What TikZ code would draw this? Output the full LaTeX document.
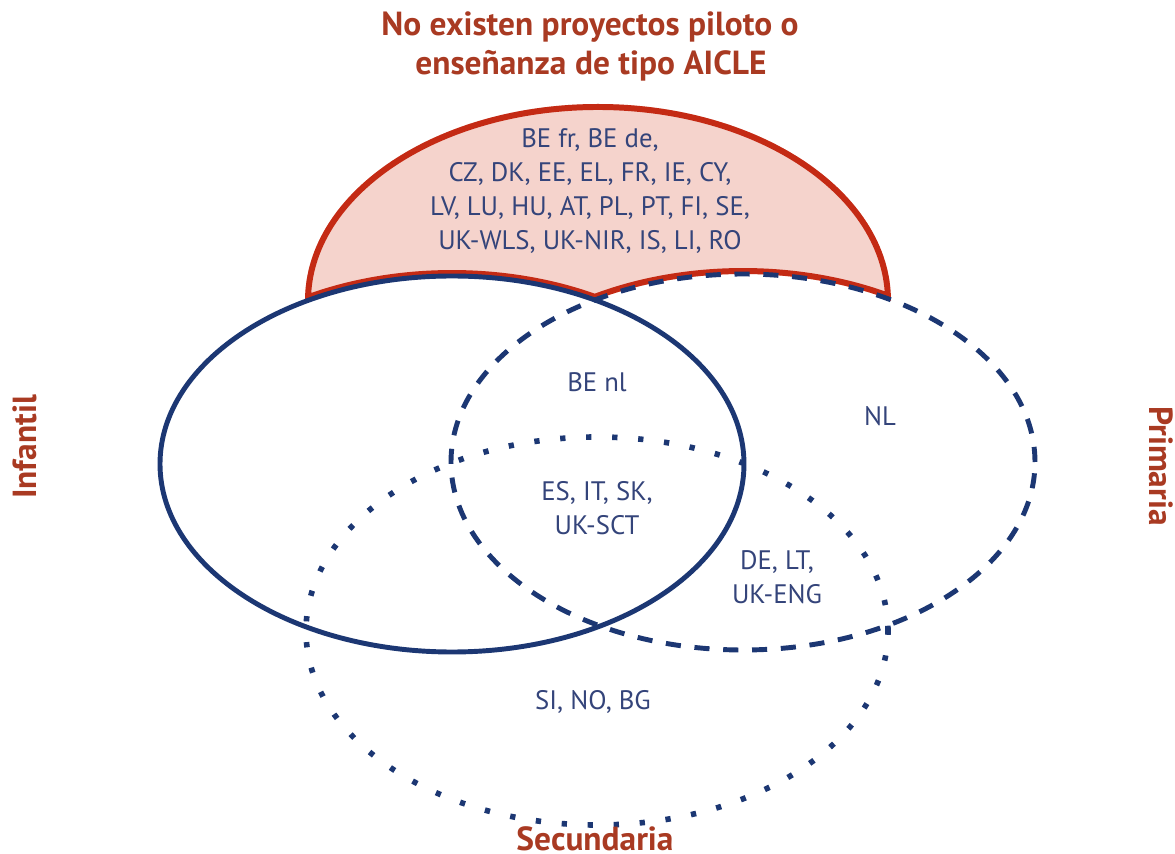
\documentclass[tikz,border=0pt]{standalone}
\usepackage{fontspec}
\setmainfont{PT Sans}
\definecolor{navy}{HTML}{1C3773}
\definecolor{txtblue}{HTML}{34447A}
\definecolor{domered}{HTML}{C42A14}
\definecolor{titlered}{HTML}{A93A22}
\definecolor{domepink}{HTML}{F5D3CC}
\begin{document}
\begin{tikzpicture}[x=0.01cm,y=0.01cm,
  ring/.style={draw=navy,line width=1.4pt},
  ringdashed/.style={ring,dash pattern=on 4.3pt off 3.9pt},
  ringdotted/.style={ring,line width=1.6pt,dash pattern=on 1.5pt off 5.9pt},
  lbl/.style={text=txtblue,font=\fontsize{7.6}{9.6}\selectfont,align=center,inner sep=0pt},
  ttl/.style={text=titlered,font=\fontsize{9.5}{11.4}\selectfont\bfseries,align=center,inner sep=0pt}]
\useasboundingbox (0,0) rectangle (1175,854);
\coordinate (cs) at (452,390);
\coordinate (cd) at (743,392);
\coordinate (ct) at (597,223);
% dome
\def\dome{(306,552.8) -- (305,553) arc[start angle=180,end angle=0,x radius=293,y radius=197]
  -- (889,554.8) arc[start angle=60,end angle=120,x radius=292,y radius=188]
  -- (598,552.8) arc[start angle=60,end angle=120,x radius=292,y radius=188] -- cycle}
\begin{scope}
\clip \dome;
\fill[domepink] \dome;
\draw[domered,line width=3.4pt,line join=round] \dome;
\end{scope}
% ellipses
\draw[ringdotted] (ct) ellipse[x radius=291,y radius=194];
\draw[ringdashed] (cd) ellipse[x radius=292,y radius=188];
\draw[ring] (cs) ellipse[x radius=292,y radius=188];
% titles
\node[ttl] (t1) at (590,827) {No existen proyectos piloto o};
\node[ttl] (t2) at (591,788) {enseñanza de tipo AICLE};
\node[ttl,rotate=90] (inf) at (25,407) {Infantil};
\node[ttl,rotate=-90] (pri) at (1161,388) {Primaria};
\node[ttl,anchor=base] (sec) at (595,4) {Secundaria};
% labels
\node[lbl] (dome) at (590,663) {BE fr, BE de,\\CZ, DK, EE, EL, FR, IE, CY,\\LV, LU, HU, AT, PL, PT, FI, SE,\\UK-WLS, UK-NIR, IS, LI, RO};
\node[lbl] (benl) at (597,472) {BE nl};
\node[lbl] (nl) at (880,438) {NL};
\node[lbl] (es) at (597,346) {ES, IT, SK,\\UK-SCT};
\node[lbl] (de) at (777,277) {DE, LT,\\UK-ENG};
\node[lbl] (si) at (593,152) {SI, NO, BG};
\end{tikzpicture}
\end{document}
